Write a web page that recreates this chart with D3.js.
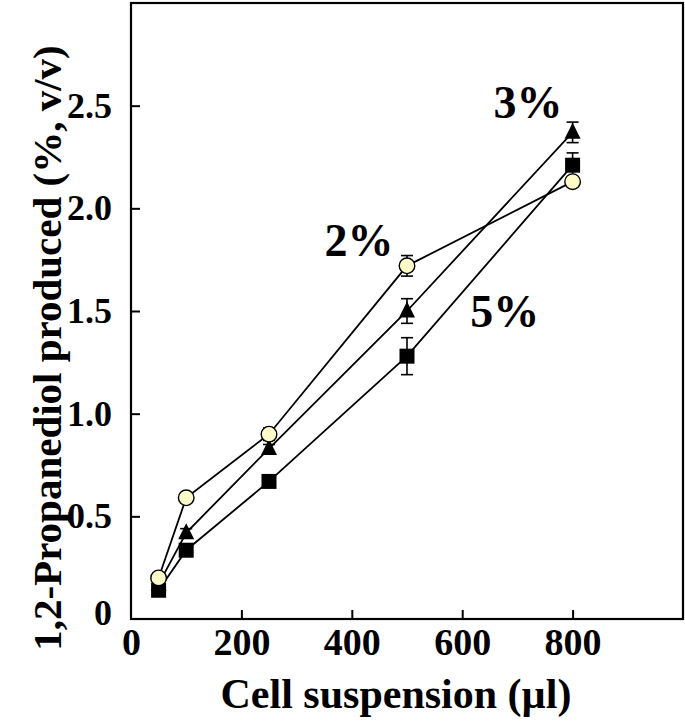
<!DOCTYPE html>
<html><head><meta charset="utf-8">
<script src="https://cdn.jsdelivr.net/npm/d3@7"></script>
<style>body{margin:0;background:#fff}svg{display:block}</style>
</head><body>
<svg id="c" width="685" height="724"></svg>
<script>
const xVals = [50, 100, 250, 500, 800];
const s2 = [0.20, 0.59, 0.90, 1.72, 2.13];
const e2 = [0.00, 0.00, 0.03, 0.05, 0.00];
const s3 = [0.17, 0.42, 0.83, 1.50, 2.37];
const e3 = [0.00, 0.02, 0.02, 0.06, 0.05];
const s5 = [0.14, 0.335, 0.67, 1.28, 2.21];
const e5 = [0.00, 0.02, 0.00, 0.09, 0.06];
const xTicks = [0, 200, 400, 600, 800];
const yTicks = [0, 0.5, 1.0, 1.5, 2.0, 2.5];
const yTickLabels = ["0", "0.5", "1.0", "1.5", "2.0", "2.5"];
const seriesLabels = ["2%", "3%", "5%"];

const svg = d3.select("#c");
const L = 131, R = 683, T = 3, B = 619;
const x = d3.scaleLinear().domain([0, 1000]).range([L, R]);
const y = d3.scaleLinear().domain([0, 3]).range([B, T]);
const font = "'Liberation Serif','Times New Roman',serif";

// frame
svg.append("rect").attr("x", L).attr("y", T).attr("width", R - L).attr("height", B - T)
  .attr("fill", "none").attr("stroke", "#000").attr("stroke-width", 2.2);

// axes
const xa = svg.append("g").attr("transform", `translate(0,${B})`)
  .call(d3.axisBottom(x).tickValues(xTicks).tickSize(-9).tickPadding(9).tickFormat(d3.format("d")));
const ya = svg.append("g").attr("transform", `translate(${L},0)`)
  .call(d3.axisLeft(y).tickValues(yTicks).tickSize(-9).tickPadding(19).tickFormat((d, i) => yTickLabels[i]));
[xa, ya].forEach(g => {
  g.select(".domain").remove();
  g.selectAll("line").attr("stroke", "#000").attr("stroke-width", 2);
  g.selectAll("text").attr("font-family", font).attr("font-weight", "bold").attr("fill", "#000");
});
xa.selectAll("text").attr("font-size", 38).attr("dy", "0.71em");
ya.selectAll("text").attr("font-size", 36);
xa.selectAll(".tick").filter(d => d === 0).select("line").remove();
ya.selectAll(".tick").filter(d => d === 0).select("line").remove();
ya.selectAll(".tick").filter(d => d === 0).select("text").attr("dy", "0.15em");

// titles
svg.append("text").attr("x", 396).attr("y", 708).attr("text-anchor", "middle")
  .attr("font-family", font).attr("font-weight", "bold").attr("font-size", 42)
  .text("Cell suspension (µl)");
svg.append("text").attr("transform", `translate(61,348) rotate(-90)`).attr("text-anchor", "middle")
  .attr("font-family", font).attr("font-weight", "bold").attr("font-size", 41)
  .text("1,2-Propanediol produced (%, v/v)");

const line = d3.line().x((d, i) => x(xVals[i])).y(d => y(d));
const series = [
  {v: s5, e: e5, m: "sq"},
  {v: s3, e: e3, m: "tri"},
  {v: s2, e: e2, m: "circ"}
];
series.forEach(s => {
  svg.append("path").datum(s.v).attr("d", line).attr("fill", "none").attr("stroke", "#000").attr("stroke-width", 1.8);
});
// error bars
series.forEach(s => {
  s.v.forEach((v, i) => {
    if (!s.e[i]) return;
    const cx = x(xVals[i]);
    const g = svg.append("g").attr("stroke", "#000").attr("stroke-width", 1.6);
    g.append("line").attr("x1", cx).attr("x2", cx).attr("y1", y(v + s.e[i])).attr("y2", y(v - s.e[i]));
    [v + s.e[i], v - s.e[i]].forEach(t => g.append("line").attr("x1", cx - 6).attr("x2", cx + 6).attr("y1", y(t)).attr("y2", y(t)));
  });
});
// markers
series.forEach(s => {
  s.v.forEach((v, i) => {
    const cx = x(xVals[i]), cy = y(v);
    if (s.m === "sq") {
      svg.append("rect").attr("x", cx - 7.5).attr("y", cy - 7.5).attr("width", 15).attr("height", 15).attr("fill", "#000");
    } else if (s.m === "tri") {
      svg.append("path").attr("d", `M${cx},${cy - 9.5}L${cx + 8},${cy + 6.5}L${cx - 8},${cy + 6.5}Z`).attr("fill", "#000");
    } else {
      svg.append("circle").attr("cx", cx).attr("cy", cy).attr("r", 7.8).attr("fill", "#fffbc8").attr("stroke", "#000").attr("stroke-width", 1.4);
    }
  });
});

// series labels
const lab = [
  {t: seriesLabels[0], xv: 413, yv: 1.77},
  {t: seriesLabels[1], xv: 719, yv: 2.44},
  {t: seriesLabels[2], xv: 677, yv: 1.42}
];
lab.forEach(l => {
  svg.append("text").attr("x", x(l.xv)).attr("y", y(l.yv)).attr("text-anchor", "middle")
    .attr("font-family", font).attr("font-weight", "bold").attr("font-size", 46).text(l.t);
});
</script>
</body></html>
